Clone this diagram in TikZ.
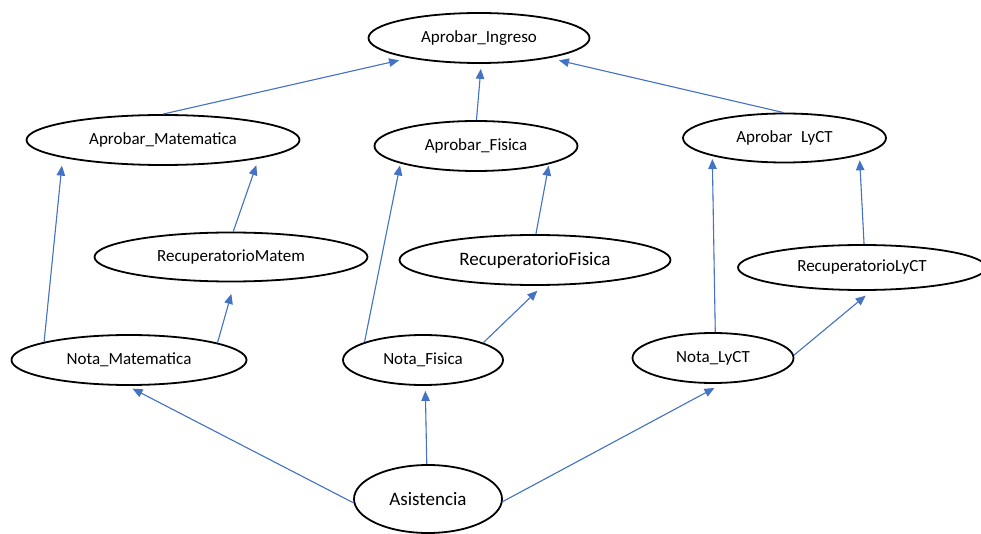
\documentclass[tikz,border=0pt]{standalone}
\usepackage{fontspec}
\setmainfont{Carlito}
\usetikzlibrary{shapes.geometric,arrows.meta}
\definecolor{linkblue}{HTML}{4472C4}
\tikzset{
  state/.style={ellipse, draw=black, line width=1.8pt, fill=white, inner sep=0pt,
    font=\fontsize{17}{20}\selectfont},
  big/.style={font=\fontsize{19}{22}\selectfont},
  link/.style={draw=linkblue, line width=1.1pt,
    -{Triangle[length=10pt,width=8.5pt]}, fill=linkblue}
}
\begin{document}
\begin{tikzpicture}[x=1pt,y=-1pt]
\useasboundingbox (0,0) rectangle (981,534);

% variables of the network
\node[state, minimum width=221pt, minimum height=50pt] (ing) at (479,38) {Aprobar\_Ingreso};
\node[state, minimum width=273pt, minimum height=50pt] (am) at (163,140) {Aprobar\_Matematica};
\node[state, minimum width=203pt, minimum height=50pt] (af) at (476,146) {Aprobar\_Fisica};
\node[state, minimum width=203pt, minimum height=49pt] (al) at (784.5,138) {Aprobar\phantom{\_}LyCT};
\node[state, minimum width=273pt, minimum height=49pt] (rm) at (231,257) {RecuperatorioMatem};
\node[state, big, minimum width=271pt, minimum height=50pt] (rf) at (535,260) {RecuperatorioFisica};
\node[state, minimum width=248pt, minimum height=45pt] (rl) at (862,267.5) {RecuperatorioLyCT};
\node[state, minimum width=235pt, minimum height=50pt] (nm) at (129,360) {Nota\_Matematica};
\node[state, minimum width=160pt, minimum height=50pt] (nf) at (423,360) {Nota\_Fisica};
\node[state, minimum width=161pt, minimum height=50pt] (nl) at (713,358) {Nota\_LyCT};
\node[state, big, minimum width=148pt, minimum height=68pt] (as) at (428,499) {Asistencia};

% dependencies
\draw[link, shorten >=6pt] (as.183) -- (nm.266);
\draw[link, shorten >=5pt] (as.92) -- (nf.275);
\draw[link, shorten >=9pt] (as.358) -- (nl.290);

\draw[link, shorten >=8pt] (nm.168) -- (am.190.5);
\draw[link, shorten >=12pt] (nm.11.6) -- (rm.278);
\draw[link, shorten >=7pt] (rm.85) -- (am.349.4);

\draw[link, shorten >=2pt] (nf.163) -- (af.193);
\draw[link, shorten >=7pt] (nf.16.2) -- (rf.286);
\draw[link, shorten >=1.5pt] (rf.88) -- (af.346);

\draw[link, shorten >=3pt] (nl.85) -- (al.194.4);
\draw[link, shorten >=7.5pt] (nl.2) -- (rl.292.7);
\draw[link, shorten >=5pt] (rl.85) -- (al.347);

\draw[link, shorten >=10pt] (am.90) -- (ing.196.4);
\draw[link, shorten >=5pt] (af.89) -- (ing.275.7);
\draw[link, shorten >=10pt] (al.92) -- (ing.344);
\end{tikzpicture}
\end{document}
